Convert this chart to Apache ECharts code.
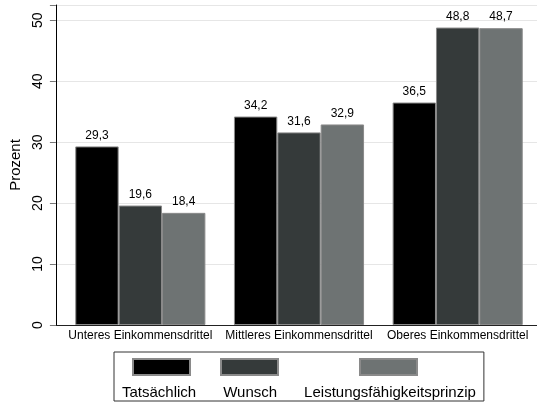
<!DOCTYPE html>
<html>
<head>
<meta charset="utf-8">
<script src="https://cdn.jsdelivr.net/npm/echarts@6/dist/echarts.min.js"></script>
<style>html,body{margin:0;padding:0;background:#fff}#c{width:537px;height:405px}</style>
</head>
<body>
<div id="c"></div>
<script>
var categories = ['Unteres Einkommensdrittel', 'Mittleres Einkommensdrittel', 'Oberes Einkommensdrittel'];
var seriesNames = ['Tatsächlich', 'Wunsch', 'Leistungsfähigkeitsprinzip'];
var tatsaechlich = [29.3, 34.2, 36.5];
var wunsch = [19.6, 31.6, 48.8];
var leistung = [18.4, 32.9, 48.7];
var yTicks = [0, 10, 20, 30, 40, 50];

var colors = ['#000000', '#353a3a', '#6e7373'];
var values = [tatsaechlich, wunsch, leistung];
var font = 'Liberation Sans, Arial, Helvetica, sans-serif';

var chart = echarts.init(document.getElementById('c'), null, {renderer: 'canvas'});

var series = seriesNames.map(function (n, i) {
  return {
    name: n,
    type: 'bar',
    xAxisIndex: 1,
    yAxisIndex: 1,
    data: values[i],
    barGap: '0%',
    barCategoryGap: '18%',
    itemStyle: {color: colors[i], borderColor: '#8a8a8a', borderWidth: 1},
    label: {
      show: true,
      position: 'top',
      distance: 5,
      fontFamily: font,
      fontSize: 12,
      color: '#000',
      formatter: function (p) { return p.value.toFixed(1).replace('.', ','); }
    },
    emphasis: {disabled: true}
  };
});

var swatchLeft = [132, 220, 359];
var legends = seriesNames.map(function (n, i) {
  return {
    data: [n],
    left: swatchLeft[i],
    top: 358,
    padding: 0,
    icon: 'rect',
    itemWidth: 57,
    itemHeight: 16,
    selectedMode: false,
    formatter: function () { return ''; },
    textStyle: {fontSize: 1}
  };
});
legends.push({
  data: seriesNames,
  left: 114,
  top: 352,
  padding: [33, 8, 1, 3],
  icon: 'rect',
  itemWidth: 0,
  itemHeight: 14,
  itemGap: 22,
  selectedMode: false,
  borderColor: '#333',
  borderWidth: 1,
  itemStyle: {color: 'rgba(0,0,0,0)', borderWidth: 0},
  textStyle: {fontFamily: font, fontSize: 15, color: '#000'}
});

chart.setOption({
  animation: false,
  grid: [
    {left: 51, right: 0, top: 5, bottom: 80},
    {left: 61, right: 0, top: 5, bottom: 80}
  ],
  xAxis: [
    {
      gridIndex: 0, type: 'value', min: 0, max: 1,
      axisLine: {show: true, lineStyle: {color: '#222', width: 1}},
      axisTick: {show: false}, axisLabel: {show: false}, splitLine: {show: false}
    },
    {
      gridIndex: 1, type: 'category', data: categories,
      axisLine: {show: false}, axisTick: {show: false},
      axisLabel: {fontFamily: font, fontSize: 12, color: '#000', margin: 5, interval: 0}
    }
  ],
  yAxis: [
    {
      gridIndex: 0, type: 'value', min: 0, max: 52.5, interval: 10,
      name: 'Prozent', nameLocation: 'middle', nameGap: 31, nameRotate: 90,
      nameTextStyle: {fontFamily: font, fontSize: 15, color: '#000'},
      axisLine: {show: true, lineStyle: {color: '#000', width: 1}},
      axisTick: {show: true, length: 6, lineStyle: {color: '#777'}},
      axisLabel: {
        rotate: 90, fontFamily: font, fontSize: 14, color: '#000', margin: 11,
        formatter: function (v) { return yTicks.indexOf(v) >= 0 ? String(v) : ''; }
      },
      splitLine: {show: true, lineStyle: {color: '#e6e6e6', width: 1}}
    },
    {
      gridIndex: 1, type: 'value', min: 0, max: 52.5, interval: 10, show: false
    }
  ],
  legend: legends,
  series: series
});
</script>
</body>
</html>
